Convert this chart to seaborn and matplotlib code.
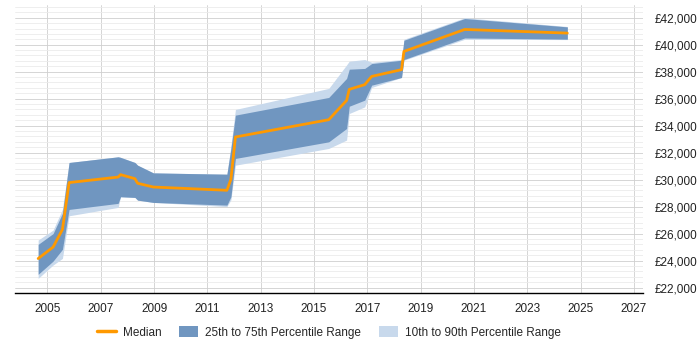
import numpy as np
import pandas as pd
import matplotlib
matplotlib.use("Agg")
import matplotlib.pyplot as plt
import matplotlib.ticker as mticker
from matplotlib.lines import Line2D
from matplotlib.patches import Patch
import seaborn as sns

# values
years = [2004.65, 2005.21, 2005.56, 2005.81, 2007.65, 2007.74, 2008.28, 2008.38,
         2008.97, 2011.73, 2011.88, 2012.05, 2015.55, 2016.22, 2016.32, 2016.9,
         2017.16, 2018.28, 2018.37, 2020.65, 2024.5]
median = [24150, 25000, 26300, 29780, 30190, 30370, 30070, 29730,
          29450, 29210, 30020, 33160, 34440, 35870, 36690, 37040,
          37650, 38150, 39500, 41130, 40860]
p75 = [25200, 26000, 27500, 31270, 31690, 31650, 31270, 31070,
       30500, 30400, 32300, 34780, 36090, 37500, 38185, 38240,
       38600, 38850, 40330, 41940, 41320]
p25 = [22980, 23960, 24830, 27790, 28240, 28730, 28680, 28480,
       28310, 28110, 28730, 31570, 32800, 33790, 35440, 35890,
       37000, 37570, 38900, 40500, 40410]
p90 = [25520, 26260, 27800, 31270, 31690, 31650, 31270, 31070,
       30500, 30400, 32500, 35200, 36760, 38500, 38780, 38900,
       38700, 38900, 40400, 42000, 41350]
p10 = [22680, 23670, 24160, 27320, 27940, 28730, 28680, 28480,
       28310, 28000, 28500, 31070, 32310, 32930, 34900, 35390,
       36830, 37570, 38850, 40400, 40380]

df = pd.DataFrame({"year": years, "median": median, "p25": p25,
                   "p75": p75, "p10": p10, "p90": p90})

sns.set_style("white")
plt.rcParams["font.family"] = ["Liberation Sans", "DejaVu Sans"]

orange = "#ff9900"
dark = "#7096c0"
light = "#c8d9ec"

fig = plt.figure(figsize=(7, 3.5), dpi=100)
ax = fig.add_axes([0.021, 0.163, 0.898, 0.823])

ax.fill_between(df["year"], df["p10"], df["p90"], color=light, lw=0, zorder=2)
ax.fill_between(df["year"], df["p25"], df["p75"], color=dark, lw=0, zorder=3)
sns.lineplot(data=df, x="year", y="median", color=orange, lw=2, ax=ax, zorder=4)

ax.set_xlim(2003.77, 2027.35)
ax.set_ylim(21600, 42950)
ax.set_xticks(range(2005, 2028, 2))
ax.yaxis.set_major_locator(mticker.MultipleLocator(2000))
ax.yaxis.set_minor_locator(mticker.MultipleLocator(400))
ax.yaxis.set_major_formatter(mticker.FuncFormatter(lambda v, p: f"£{v:,.0f}"))
ax.yaxis.tick_right()
ax.yaxis.set_label_position("right")
ax.set_xlabel("")
ax.set_ylabel("")

ax.grid(True, which="major", axis="both", color="#cfcfcf", lw=0.6, zorder=0)
ax.grid(True, which="minor", axis="y", color="#ebebeb", lw=0.6, zorder=0)
ax.set_axisbelow(True)

for s in ["left", "right", "top"]:
    ax.spines[s].set_visible(False)
ax.spines["bottom"].set_color("black")
ax.spines["bottom"].set_linewidth(1)

ax.tick_params(axis="x", which="major", length=4, color="black", labelsize=8.5,
               labelcolor="#222222", pad=3)
ax.tick_params(axis="y", which="both", length=0, labelsize=8.5,
               labelcolor="#222222", pad=8)

handles = [Line2D([0], [0], color=orange, lw=2.5),
           Patch(facecolor=dark, edgecolor="none"),
           Patch(facecolor=light, edgecolor="none")]
labels = ["Median", "25th to 75th Percentile Range", "10th to 90th Percentile Range"]
fig.legend(handles, labels, loc="center", bbox_to_anchor=(0.47, 0.05), ncol=3,
           frameon=False, fontsize=8.5, handlelength=1.6, handleheight=1.1,
           columnspacing=1.5, handletextpad=0.6)

fig.savefig("out.png", dpi=100)
